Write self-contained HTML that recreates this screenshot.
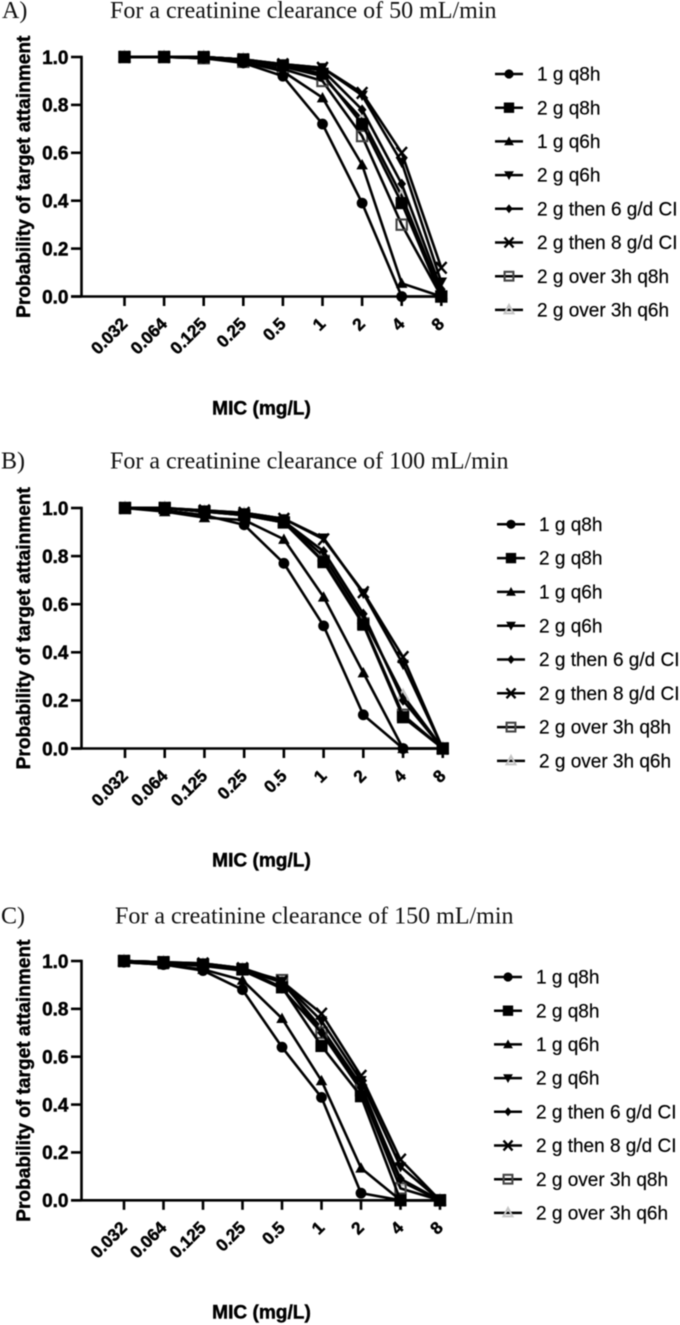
<!DOCTYPE html>
<html lang="en">
<head>
<meta charset="utf-8">
<title>Probability of target attainment by MIC</title>
<style>
html,body{margin:0;padding:0;background:#fff;width:680px;height:1325px;overflow:hidden}
svg{display:block;filter:blur(0.5px)}
.title{font-family:"Liberation Serif",serif;font-size:24px;fill:#111}
.tick,.axis-title{font-family:"Liberation Sans",sans-serif;font-weight:700;fill:#000;stroke:#000;stroke-width:.45px}
.tick{font-size:19px}
.x-tick{font-size:17.2px}
.axis-title{font-size:19.1px}
.legend-text{font-family:"Liberation Sans",sans-serif;font-size:19px;fill:#000;stroke:#000;stroke-width:.2px}
</style>
</head>
<body>
<svg id="figure" xmlns="http://www.w3.org/2000/svg" width="680" height="1325" viewBox="0 0 680 1325">
  <rect width="680" height="1325" fill="#fff"/>
  <text class="title" x="2" y="18">A)</text>
  <text class="title" x="110" y="18">For a creatinine clearance of 50 mL/min</text>
  <text class="title" x="1" y="468.5">B)</text>
  <text class="title" x="110" y="468.5">For a creatinine clearance of 100 mL/min</text>
  <text class="title" x="1" y="923.5">C)</text>
  <text class="title" x="115" y="923.5">For a creatinine clearance of 150 mL/min</text>
</svg>
<script>
var categories = ['0.032','0.064','0.125','0.25','0.5','1','2','4','8'];
var yTickLabels = ['0.0','0.2','0.4','0.6','0.8','1.0'];
var seriesNames = ['1 g q8h','2 g q8h','1 g q6h','2 g q6h','2 g then 6 g/d CI','2 g then 8 g/d CI','2 g over 3h q8h','2 g over 3h q6h'];

var panelA1gQ8h    = [1,1,.995,.975,.92,.72,.39,0,0];
var panelA2gQ8h    = [1,1,1,.99,.965,.93,.72,.39,0];
var panelA1gQ6h    = [1,1,.995,.98,.94,.83,.55,.055,0];
var panelA2gQ6h    = [1,1,1,.99,.97,.955,.84,.56,.06];
var panelA6gCI     = [1,1,1,.99,.965,.945,.78,.47,.03];
var panelA8gCI     = [1,1,1,.99,.97,.955,.85,.60,.12];
var panelAOver3Q8  = [1,1,.995,.98,.95,.90,.67,.30,0];
var panelAOver3Q6  = [1,1,1,.99,.96,.92,.74,.42,.01];

var panelB1gQ8h    = [1,.99,.97,.93,.77,.51,.14,0,0];
var panelB2gQ8h    = [1,1,.985,.97,.94,.775,.515,.13,0];
var panelB1gQ6h    = [1,.985,.96,.95,.87,.63,.315,0,0];
var panelB2gQ6h    = [1,1,.99,.98,.955,.875,.645,.35,0];
var panelB6gCI     = [1,1,.985,.975,.945,.82,.56,.20,0];
var panelB8gCI     = [1,1,.99,.98,.955,.87,.65,.38,0];
var panelBOver3Q8  = [1,1,.985,.97,.94,.78,.52,.14,0];
var panelBOver3Q6  = [1,1,.985,.975,.945,.80,.54,.22,0];

var panelC1gQ8h    = [.995,.985,.96,.88,.64,.43,.03,0,0];
var panelC2gQ8h    = [1,.995,.985,.965,.89,.645,.435,0,0];
var panelC1gQ6h    = [.995,.985,.965,.92,.76,.50,.135,0,0];
var panelC2gQ6h    = [1,.995,.99,.97,.915,.75,.50,.14,0];
var panelC6gCI     = [1,.99,.98,.96,.885,.70,.47,.09,0];
var panelC8gCI     = [1,.995,.99,.97,.915,.78,.52,.17,0];
var panelCOver3Q8  = [1,.995,.985,.965,.92,.70,.46,.05,0];
var panelCOver3Q6  = [1,.995,.985,.965,.91,.72,.48,.08,0];

var NS = 'http://www.w3.org/2000/svg';
var root = document.getElementById('figure');

function make(tag, attrs, parent) {
  var el = document.createElementNS(NS, tag);
  for (var k in attrs) el.setAttribute(k, attrs[k]);
  parent.appendChild(el);
  return el;
}

function drawMarker(kind, cx, cy, parent, scale) {
  var s = (scale || 1) * 1.15, m;
  if (kind === 0) {
    m = make('circle', {cx: cx, cy: cy, r: 4.7 * s, fill: '#000'}, parent);
  } else if (kind === 1) {
    m = make('rect', {x: cx - 5.3 * s, y: cy - 5.3 * s, width: 10.6 * s, height: 10.6 * s, fill: '#000'}, parent);
  } else if (kind === 2) {
    m = make('path', {d: 'M' + cx + ' ' + (cy - 5 * s) + 'l' + (5 * s) + ' ' + (9 * s) + 'h' + (-10 * s) + 'z', fill: '#000'}, parent);
  } else if (kind === 3) {
    m = make('path', {d: 'M' + cx + ' ' + (cy + 5 * s) + 'l' + (5 * s) + ' ' + (-9 * s) + 'h' + (-10 * s) + 'z', fill: '#000'}, parent);
  } else if (kind === 4) {
    m = make('path', {d: 'M' + cx + ' ' + (cy - 4.6 * s) + 'l' + (3.8 * s) + ' ' + (4.6 * s) + 'l' + (-3.8 * s) + ' ' + (4.6 * s) + 'l' + (-3.8 * s) + ' ' + (-4.6 * s) + 'z', fill: '#000'}, parent);
  } else if (kind === 5) {
    m = make('path', {d: 'M' + (cx - 4.6 * s) + ' ' + (cy - 5 * s) + 'L' + (cx + 4.6 * s) + ' ' + (cy + 5 * s) + 'M' + (cx + 4.6 * s) + ' ' + (cy - 5 * s) + 'L' + (cx - 4.6 * s) + ' ' + (cy + 5 * s), stroke: '#000', 'stroke-width': 2.4, fill: 'none'}, parent);
  } else if (kind === 6) {
    m = make('rect', {x: cx - 4.5 * s, y: cy - 4.5 * s, width: 9 * s, height: 9 * s, fill: 'none', stroke: '#444', 'stroke-width': 2.1}, parent);
  } else {
    m = make('path', {d: 'M' + cx + ' ' + (cy - 5 * s) + 'l' + (4.6 * s) + ' ' + (8.6 * s) + 'h' + (-9.2 * s) + 'z', fill: 'none', stroke: '#c4c4c4', 'stroke-width': 2}, parent);
  }
  return m;
}

function drawPanel(id, cfg, seriesValues) {
  var g = make('g', {}, root);
  
  

  function xScale(i) { return cfg.x0 + i * cfg.xStep; }
  function yScale(v) { return cfg.yBottom - v * (cfg.yBottom - cfg.yTop); }

  // axes
  var axes = make('g', {stroke: '#000', 'stroke-width': 2.6, fill: 'none'}, g);
  
  
  var yAxis = make('line', {x1: 81.5, x2: 81.5, y1: yScale(1) - 1.3, y2: yScale(0)}, axes);
  
  
  var xAxis = make('line', {x1: 71, x2: xScale(categories.length - 1) + 1.3, y1: yScale(0), y2: yScale(0)}, axes);
  
  

  yTickLabels.forEach(function (label) {
    var v = parseFloat(label);
    var tick = make('line', {x1: 71, x2: 81.5, y1: yScale(v), y2: yScale(v)}, axes);
    
    
    var t = make('text', {'class': 'tick', x: 68.5, y: yScale(v) + 6.8, 'text-anchor': 'end'}, g);
    
    
    t.textContent = label;
  });

  categories.forEach(function (label, i) {
    var x = xScale(i);
    var tick = make('line', {x1: x, x2: x, y1: yScale(0), y2: yScale(0) + 9.5}, axes);
    
    
    var ex = x + 4, ey = yScale(0) + 28.5;
    var t = make('text', {'class': 'tick x-tick', x: ex, y: ey, 'text-anchor': 'end', transform: 'rotate(-45 ' + ex + ' ' + ey + ')'}, g);
    
    
    t.textContent = label;
  });

  var midY = (yScale(0) + yScale(1)) / 2;
  var yTitle = make('text', {'class': 'axis-title', x: 30, y: midY, 'text-anchor': 'middle', transform: 'rotate(-90 30 ' + midY + ')'}, g);
  
  
  yTitle.textContent = 'Probability of target attainment';

  var xTitle = make('text', {'class': 'axis-title', x: 261.5, y: yScale(0) + 118, 'text-anchor': 'middle'}, g);
  
  
  xTitle.textContent = 'MIC (mg/L)';

  // series: first legend entries sit on top, square series last
  var order = [7, 6, 5, 4, 3, 2, 0, 1];
  order.forEach(function (s) {
    var values = seriesValues[s];
    var sg = make('g', {}, g);
    
    
    var pts = values.map(function (v, i) { return xScale(i) + ',' + yScale(v); }).join(' ');
    var line = make('polyline', {points: pts, fill: 'none', stroke: '#000', 'stroke-width': 2.6, 'stroke-linejoin': 'round'}, sg);
    
    
    values.forEach(function (v, i) {
      var m = drawMarker(s, xScale(i), yScale(v), sg);
      
      
    });
  });

  // legend
  var lg = make('g', {}, g);
  
  
  seriesNames.forEach(function (name, i) {
    var y = cfg.legendY + i * cfg.legendStep;
    var entry = make('g', {}, lg);
    
    
    make('line', {x1: cfg.legendX, x2: cfg.legendX + 28, y1: y, y2: y, stroke: '#000', 'stroke-width': 2.5}, entry);
    drawMarker(i, cfg.legendX + 14, y, entry, 0.85);
    var t = make('text', {'class': 'legend-text', x: cfg.legendX + 42, y: y + 6.6}, entry);
    
    
    t.textContent = name;
  });
}

drawPanel('a', {x0: 124.5, xStep: 39.6, yTop: 57, yBottom: 296.5, legendX: 495, legendY: 74, legendStep: 33.7},
  [panelA1gQ8h, panelA2gQ8h, panelA1gQ6h, panelA2gQ6h, panelA6gCI, panelA8gCI, panelAOver3Q8, panelAOver3Q6]);
drawPanel('b', {x0: 125, xStep: 39.72, yTop: 508, yBottom: 748.5, legendX: 497, legendY: 524.3, legendStep: 33.8},
  [panelB1gQ8h, panelB2gQ8h, panelB1gQ6h, panelB2gQ6h, panelB6gCI, panelB8gCI, panelBOver3Q8, panelBOver3Q6]);
drawPanel('c', {x0: 124, xStep: 39.5, yTop: 961, yBottom: 1200.3, legendX: 494, legendY: 977, legendStep: 33.7},
  [panelC1gQ8h, panelC2gQ8h, panelC1gQ6h, panelC2gQ6h, panelC6gCI, panelC8gCI, panelCOver3Q8, panelCOver3Q6]);
</script>
</body>
</html>
